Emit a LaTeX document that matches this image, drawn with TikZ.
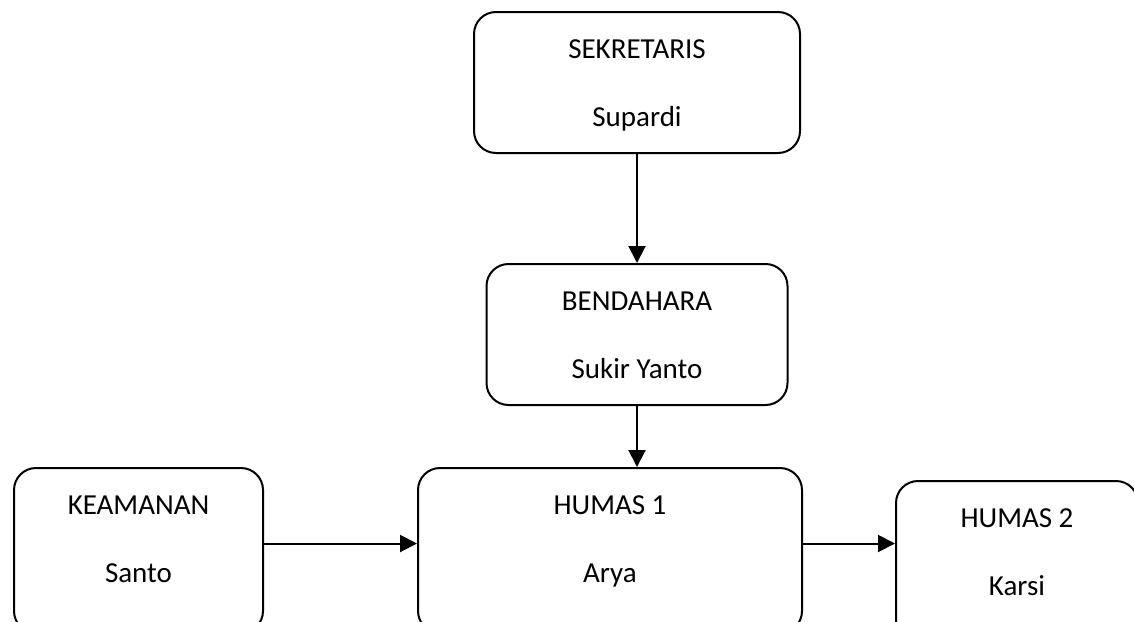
\documentclass[tikz,border=0pt]{standalone}
\usepackage{fontspec}
\setmainfont{Carlito}
\usepackage{tikz}
\usetikzlibrary{arrows.meta, positioning}

\tikzset{
	unit/.style = {draw, rounded corners = 22pt, line width = 2pt, align = center,
		inner xsep = 0pt, inner ysep = 26pt, text height = 88pt,
		font = \fontsize{29}{68}\selectfont},
	link/.style = {line width = 2pt, -{Triangle[length = 17pt, width = 17pt]}},
}

\begin{document}
\begin{tikzpicture}[x = 1pt, y = -1pt]
			\useasboundingbox (0,0) rectangle (1134,621);
			\clip (0,0) rectangle (1134,621);

			% top column
			\node [unit, anchor = north, minimum width = 326pt, text depth = 1pt] (sekretaris) at (637,11) {SEKRETARIS\\Supardi};
			\node [unit, anchor = north, minimum width = 301pt, text depth = 1pt] (bendahara) at (637,263) {BENDAHARA\\Sukir Yanto};

			% bottom row
			\node [unit, anchor = north west, minimum width = 249pt, text depth = 25pt] (keamanan) at (13,467) {KEAMANAN\\Santo};
			\node [unit, anchor = north west, minimum width = 384pt, text depth = 25pt] (humas1) at (417,467) {HUMAS 1\\Arya};
			\node [unit, anchor = north west, minimum width = 242pt, text depth = 25pt] (humas2) at (895,480) {HUMAS 2\\Karsi};

			\coordinate (kR) at ([yshift = 7pt]keamanan.east);
			\coordinate (hR) at ([yshift = 7pt]humas1.east);

			\begin{scope}[link]
				\draw (sekretaris.south) -- (bendahara.north);
				\draw (bendahara.south) -- (bendahara.south |- humas1.north);
				\draw (kR) -- (kR -| humas1.west);
				\draw (hR) -- (hR -| humas2.west);
			\end{scope}
		\end{tikzpicture}
\end{document}
